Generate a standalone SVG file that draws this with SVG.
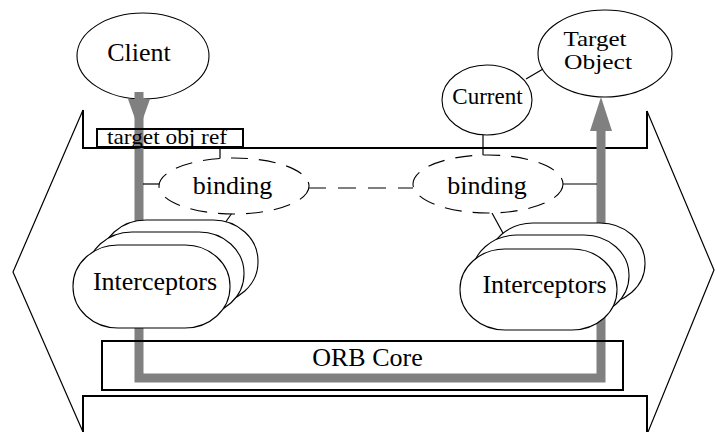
<svg xmlns="http://www.w3.org/2000/svg" width="715" height="432" viewBox="0 0 715 432">
<style>
.thin{fill:none;stroke:#000;stroke-width:1.2}
.thick{fill:none;stroke:#000;stroke-width:2}
.node{fill:#fff;stroke:#000;stroke-width:1.1}
.dash{fill:#fff;stroke:#000;stroke-width:1.1;stroke-dasharray:17 11}
.grey{fill:none;stroke:#808080;stroke-width:9}
.head{fill:#808080;stroke:none}
text{font-family:"Liberation Serif","Times New Roman",serif;fill:#000;text-anchor:middle}
.big{font-size:26px}
</style>
<rect width="715" height="432" fill="#fff"/>
<g id="frame">
<polyline class="thin" points="83,110 13,272 83,432"/>
<polyline class="thick" points="83,110 83,148 647,148 647,111"/>
<polyline class="thin" points="647,111 714,270 648,432"/>
<polyline class="thick" points="83,432 83,396 647,396 647,432"/>
</g>
<g id="client">
<ellipse class="node" cx="143" cy="56" rx="66" ry="43"/>
<text class="big" x="139" y="61">Client</text>
</g>
<g id="target-object">
<ellipse class="node" cx="605" cy="53.5" rx="67" ry="43.5"/>
<text x="595" y="46" font-size="22" textLength="63" lengthAdjust="spacingAndGlyphs">Target</text>
<text x="598" y="69" font-size="22" textLength="68" lengthAdjust="spacingAndGlyphs">Object</text>
</g>
<g id="connectors">
<path class="grey" d="M139,92 V378 H601 V125"/>
<polygon class="head" points="128,99 150,99 139,130"/>
<polygon class="head" points="601,97 590,131 612,131"/>
<line class="thin" x1="526" y1="79" x2="543" y2="69"/>
<line class="thin" x1="483" y1="135" x2="483" y2="157"/>
<line class="thin" x1="220" y1="149" x2="220" y2="160"/>
<line class="thin" x1="143" y1="184" x2="160" y2="184"/>
<line class="thin" x1="563" y1="184" x2="597" y2="184"/>
<line class="thin" x1="308" y1="188" x2="413" y2="188" stroke-dasharray="18 12"/>
<line class="thin" x1="232" y1="213" x2="225" y2="223"/>
<line class="thin" x1="492" y1="213" x2="504" y2="235"/>
</g>
<g id="current">
<ellipse class="node" cx="487" cy="100" rx="45" ry="35"/>
<text x="487.5" y="104" font-size="23">Current</text>
</g>
<g id="target-obj-ref">
<rect class="thick" x="97" y="129" width="146" height="18"/>
<text x="167" y="144" font-size="22" textLength="120" lengthAdjust="spacingAndGlyphs">target obj ref</text>
</g>
<g id="binding-left">
<ellipse class="dash" cx="234" cy="186" rx="75" ry="28"/>
<text class="big" x="232.5" y="194">binding</text>
</g>
<g id="binding-right">
<ellipse class="dash" cx="488" cy="184" rx="75" ry="29"/>
<text class="big" x="487" y="194">binding</text>
</g>
<g id="interceptors-left">
<rect class="node" x="101" y="220" width="157" height="83" rx="45" ry="41"/>
<rect class="node" x="87" y="232" width="157" height="83" rx="45" ry="41"/>
<rect class="node" x="73" y="245" width="157" height="83" rx="45" ry="41"/>
<text class="big" x="155" y="290">Interceptors</text>
</g>
<g id="interceptors-right">
<rect class="node" x="488" y="223" width="157" height="81" rx="45" ry="40"/>
<rect class="node" x="472" y="235" width="157" height="81" rx="45" ry="40"/>
<rect class="node" x="460" y="249" width="157" height="81" rx="45" ry="40"/>
<text class="big" x="544.5" y="293">Interceptors</text>
</g>
<g id="orb-core">
<rect class="thick" x="102" y="341" width="521" height="49"/>
<text class="big" x="367.5" y="366">ORB Core</text>
</g>
</svg>
